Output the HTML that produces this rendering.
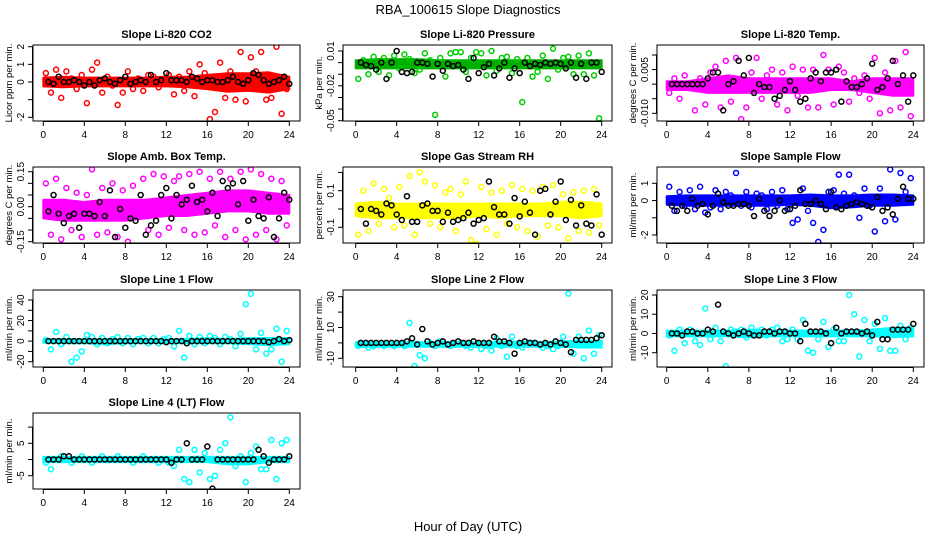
<!DOCTYPE html>
<html><head><meta charset="utf-8"><style>
body{margin:0;background:#fff}
svg{display:block;font-family:"Liberation Sans",Arial,sans-serif}
</style></head><body>
<svg id="chart" width="936" height="540" viewBox="0 0 936 540" xmlns="http://www.w3.org/2000/svg">
<rect width="936" height="540" fill="#fff"/>
<text x="468" y="14" text-anchor="middle" font-size="13">RBA_100615  Slope Diagnostics</text>
<text x="468" y="531" text-anchor="middle" font-size="13">Hour of Day (UTC)</text>
</svg>
<script>
// ---- data arrays (hour-of-day series; colored = all slopes, black = selected) ----
const xTicks = [0,4,8,12,16,20,24];

const co2BandLo = [-0.25,-0.3,-0.25,-0.25,-0.25,-0.25,-0.25,-0.3,-0.4,-0.55,-0.5,-0.6,-0.4];
const co2BandHi = [0.25,0.3,0.25,0.25,0.25,0.25,0.3,0.3,0.4,0.5,0.5,0.55,0.3];
const co2All = [0.5,-0.6,0.7,-0.9,0.6,0.2,-0.4,0.4,-1.2,0.7,1.1,-0.6,0.3,-0.2,-1.3,-0.6,0.6,-0.4,0.2,-0.5,0.4,0.3,-0.3,0.1,0.4,-0.7,0.3,-0.5,0.6,-0.8,1.0,0.5,-2.1,-1.7,1.1,-0.9,0.6,-1.0,1.7,-1.1,1.4,0.6,1.7,-1.0,-0.9,2.0,-1.8,-0.4];
const co2Sel = [0,-0.1,0.3,0,0,0.1,0,-0.2,0,-0.2,0.1,0.2,0,-0.1,0.1,0.3,-0.1,0,0.1,0,0.4,0,0.1,0.5,0.1,0.1,0.1,0,0.3,0.2,0,0.1,0.1,0,0,0.1,0.3,0,-0.1,0.1,0.5,0.4,0.1,-0.1,0,0.1,0.3,-0.1];

const presBandLo = [-0.005,-0.005,-0.005,-0.005,-0.005,-0.005,-0.005,-0.005,-0.005,-0.005,-0.005,-0.005,-0.005];
const presBandHi = [0.002,0.003,0.003,0.003,0.002,0.002,0.002,0.002,0.002,0.002,0.002,0.002,0.002];
const presAll = [-0.014,0.002,-0.010,0.005,-0.008,0.004,-0.011,0.006,-0.005,0.007,0.003,-0.009,-0.006,0.008,0.002,-0.045,0.004,-0.012,0.008,0.009,0.009,-0.008,0.004,0.009,0.008,-0.011,0.010,-0.007,0.004,0.005,-0.009,0.003,-0.034,0.004,-0.012,-0.008,0.006,-0.014,0.012,-0.006,0.004,0.005,-0.010,0.006,-0.010,0.008,-0.011,-0.048];
const presSel = [0,-0.002,-0.003,-0.006,0,-0.014,0,0.010,-0.008,-0.009,-0.008,0,0,-0.001,-0.012,-0.001,-0.007,-0.001,-0.003,-0.002,-0.006,-0.014,0.004,-0.009,-0.004,-0.001,-0.011,-0.005,0,-0.013,-0.005,-0.009,0,-0.003,-0.001,-0.002,0,-0.001,0,-0.001,-0.005,0,-0.013,-0.001,-0.014,0,0,-0.008];

const tempBandLo = [-0.002,-0.002,-0.003,-0.003,-0.003,-0.003,-0.003,-0.003,-0.002,-0.002,-0.003,-0.004,-0.004];
const tempBandHi = [0.001,0.001,0.002,0.003,0.002,0.002,0.002,0.002,0.002,0.001,0.002,0.002,0.002];
const tempAll = [-0.003,0.002,-0.005,0.003,-0.001,-0.009,0.002,-0.007,0.004,0.006,-0.008,0.008,-0.006,0.009,-0.012,-0.008,0.004,0.009,-0.005,0.003,0.005,-0.007,0.004,-0.009,0.006,-0.004,0.005,-0.008,0.005,-0.008,0.010,0.005,-0.007,0.006,0.004,-0.006,0.002,-0.003,0.003,-0.005,0.009,-0.010,0.004,-0.009,0.008,-0.008,0.011,-0.011];
const tempSel = [0,0,0,0,0,0,0,0.002,0.004,0.004,-0.009,0,0.001,0.008,0.003,0.009,-0.003,0.000,-0.001,-0.001,-0.005,-0.004,-0.002,0.001,-0.002,-0.006,-0.005,0.002,0.004,0.001,0.004,0.004,0.005,-0.006,0.001,-0.001,-0.001,0,0.002,0.007,-0.002,-0.001,0.002,0.008,0,0.003,-0.006,0.003];

const ambBandLo = [-0.05,-0.06,-0.06,-0.06,-0.06,-0.05,-0.04,-0.04,-0.03,-0.02,-0.02,-0.03,-0.03];
const ambBandHi = [0.03,0.03,0.02,0.03,0.03,0.03,0.04,0.05,0.06,0.07,0.07,0.06,0.05];
const ambAll = [0.1,-0.12,0.12,-0.14,0.08,-0.1,0.06,-0.13,0.05,0.16,-0.12,0.08,-0.11,0.1,-0.13,0.07,-0.15,0.09,-0.17,0.12,-0.1,0.14,-0.12,0.13,-0.09,0.11,0.13,-0.1,0.14,-0.12,0.15,-0.11,0.12,-0.08,0.15,-0.13,0.12,-0.1,0.15,-0.14,0.16,-0.12,0.14,-0.1,0.12,-0.14,0.11,-0.08];
const ambSel = [-0.02,0.05,-0.03,-0.07,-0.04,-0.03,-0.09,-0.03,-0.03,-0.04,0.02,-0.04,0.07,-0.13,-0.01,-0.09,-0.05,-0.06,0.05,-0.12,-0.08,-0.06,0.05,0.08,-0.05,0.05,0.01,0.03,0.09,0.02,0.03,-0.02,0.06,-0.04,0.11,0.08,0.1,0.01,0.11,-0.06,0.03,-0.04,-0.05,0.04,-0.13,-0.05,0.06,0.03];

const rhBandLo = [-0.04,-0.05,-0.05,-0.05,-0.05,-0.05,-0.04,-0.05,-0.04,-0.04,-0.04,-0.05,-0.04];
const rhBandHi = [0.03,0.04,0.03,0.03,0.03,0.03,0.03,0.03,0.03,0.03,0.04,0.04,0.03];
const rhAll = [-0.14,0.1,-0.12,0.14,-0.08,0.11,0.06,-0.1,0.12,-0.09,0.18,-0.14,0.2,0.15,-0.08,0.13,-0.1,0.09,0.11,-0.12,0.08,0.15,-0.17,-0.19,0.12,-0.11,0.09,-0.14,0.1,-0.08,0.13,-0.1,0.11,-0.12,0.1,-0.15,0.12,-0.09,0.13,-0.1,0.08,-0.16,0.09,-0.12,0.1,-0.13,0.11,-0.09];
const rhSel = [0,-0.08,0,-0.01,-0.03,0.03,0.02,-0.03,-0.06,0.07,-0.07,-0.07,0.02,0.03,-0.01,-0.01,-0.07,-0.02,-0.07,-0.06,-0.05,-0.02,-0.08,-0.06,-0.05,0.15,0.01,-0.03,-0.03,-0.08,0.06,-0.04,0.04,-0.02,-0.14,0.1,0.11,-0.03,0.04,0.15,-0.06,0.05,-0.09,0.02,-0.08,-0.09,0.08,-0.14];

const flowBandLo = [-0.25,-0.3,-0.3,-0.3,-0.3,-0.3,-0.25,-0.3,-0.45,-0.4,-0.3,-0.3,-0.25];
const flowBandHi = [0.25,0.3,0.3,0.3,0.3,0.3,0.3,0.35,0.3,0.3,0.35,0.35,0.3];
const flowAll = [0.8,-0.6,0.5,-0.3,0.6,-0.5,0.8,-0.7,-0.4,0.6,-0.5,0.5,0.3,1.6,-0.3,0.5,-0.4,0.4,0.3,-0.5,0.5,-0.3,0.6,-0.5,-1.3,-1.1,0.7,-0.6,-1.3,-2.4,-1.7,0.5,0.6,1.5,0.4,1.5,0.3,-1.0,0.7,-0.3,-1.8,0.7,-1.2,1.8,-1.1,1.6,0.5,1.3];
const flowSel = [-0.3,-0.6,-0.3,-0.6,0.1,-0.3,-0.2,-0.8,-0.3,0.4,-0.1,-0.3,-0.3,-0.2,-0.2,-0.3,-0.9,0.1,-0.6,-0.9,-0.6,0,-0.6,-0.5,-0.3,0.6,-0.2,-0.2,0,-0.2,-0.5,0.5,-0.4,-0.5,-0.3,-0.2,-0.1,-0.2,-0.3,-0.4,0.2,-0.6,-0.4,-0.8,0.1,0.8,0.1,0.1];

const l1BandLo = [-1.5,-2,-2,-3,-2,-2,-1.5,-2,-2,-2,-3,-4,-3];
const l1BandHi = [1.5,2,2,2,2,2,2,2,3,2,3,3,3];
const l1All = [1,-8,9,-3,4,-20,-16,-10,6,4,-3,3,-2,2,4,-2,3,-3,2,3,-2,3,-2,2,3,-5,10,-16,5,-3,4,-2,5,3,-3,4,2,-5,7,36,46,-8,8,-12,-8,12,-20,10];
const l1Sel = [0,0,0,0,0,0,0,0,0,0,0,0,0,0,0,0,0,0,0,0,0,0,0,-1,0,0,0,-2,0,0,0,0,0,0,0,0,0,0,0,0,0,0,0,-1,0,2,0,1];

const l2BandLo = [-2.5,-2.5,-2.5,-2.5,-2.5,-2.5,-2.5,-2.5,-2.5,-2.5,-2.5,-3,-3];
const l2BandHi = [0.5,0.5,0.5,0.5,0.5,0.5,0.5,0.5,1,0.5,1,1.5,1.5];
const l2All = [-2,-1,-3,-2,-1,-2,-1,-2,-1,-2,13,-15,-8,-10,0,-2,1,-1,-2,-1,0,-2,-3,-1,-4,-2,-5,3,-2,-9,4,-2,-3,-1,0,-1,-3,-2,-4,-2,4,32,-7,4,-10,8,-7,5];
const l2Sel = [0,0,0,0,0,0,0,0,0,1,3,-1,9,1,-1,0,1,-1,0,1,0,0,1,0,0,0,4,1,1,0,-7,0,1,0,0,-1,0,-1,1,0,-1,-6,2,2,2,2,3,5];

const l3BandLo = [-1.5,-1.5,-1.5,-1.5,-2,-1.5,-1.5,-1.5,-1.5,-1.5,-1.5,-2,-1.5];
const l3BandHi = [1.5,1.5,1.5,1.5,2,1.5,1.5,1.5,1.5,1.5,2,3,3];
const l3All = [-1,-9,2,-5,2,-4,-6,13,-3,3,-4,-17,2,1,2,-2,3,1,2,-1,2,3,-4,-3,2,-3,7,-9,-10,-3,6,-7,2,-4,-4,20,10,-12,7,-4,5,-8,8,-9,-9,4,-3,3];
const l3Sel = [0,0,-1,1,1,0,0,2,1,15,1,0,-1,0,1,0,-1,-1,1,1,0,1,1,0,0,-4,5,1,1,1,0,-5,3,0,1,1,1,0,1,-1,6,-3,-3,2,2,2,2,5];

const l4BandLo = [-0.8,-0.8,-0.8,-0.8,-0.8,-0.8,-0.8,-0.8,-0.8,-1.5,-1.5,-0.8,-0.8];
const l4BandHi = [0.8,0.8,0.8,0.8,0.8,0.8,0.8,0.8,0.8,0.8,0.8,0.8,0.8];
const l4All = [-1,-3,0,1,0,-1,0,1,0,-1,0,1,0,0,1,0,0,-1,0,1,0,0,-1,0,-1,-2,3,-6,-7,3,-4,2,-6,-5,3,5,13,-2,1,-7,2,4,-3,-3,6,-6,5,6];
const l4Sel = [0,0,0,1,1,0,0,0,0,0,0,0,0,0,0,0,0,0,0,0,0,0,0,0,-1,0,0,5,0,0,0,4,-9,0,0,0,0,0,0,0,0,3,1,-1,0,0,0,1];

// ---- layout ----
const NS = 'http://www.w3.org/2000/svg';
const svg = document.getElementById('chart');
function mk(tag, attrs, parent){
  const e = document.createElementNS(NS, tag);
  for (const k in attrs) e.setAttribute(k, attrs[k]);
  (parent || svg).appendChild(e);
  return e;
}
const cols = [{l:33,r:300,x0:43.3,x24:289.3,ytl:24,yt:9},
              {l:343,r:612,x0:355.7,x24:601.7,ytl:334,yt:319},
              {l:657,r:924,x0:666.7,x24:913.3,ytl:648,yt:633}];
const rows = [{t:45,b:121,title:38},{t:167,b:243,title:160},{t:290,b:367,title:283},{t:413,b:489,title:406}];

const panels = [
 {name:'co2',title:'Slope Li-820 CO2',ylab:'Licor ppm per min.',c:0,r:0,color:'#ff0000',band:'#ff0000',v1:2,p1:46.7,v2:-2,p2:117.3,ticks:[-2,-1,0,1,2],labels:{'2':'2','1':'1','0':'0','-2':'-2'},lo:co2BandLo,hi:co2BandHi,all:co2All,sel:co2Sel},
 {name:'pressure',title:'Slope Li-820 Pressure',ylab:'kPa per min.',c:1,r:0,color:'#00cd00',band:'#00b000',v1:0.01,p1:51,v2:-0.05,p2:120.7,ticks:[0.01,0,-0.01,-0.02,-0.03,-0.04,-0.05],labels:{'0.01':'0.01','-0.02':'-0.02','-0.05':'-0.05'},lo:presBandLo,hi:presBandHi,all:presAll,sel:presSel},
 {name:'li820-temp',title:'Slope Li-820 Temp.',ylab:'degrees C per min.',c:2,r:0,color:'#ff00ff',band:'#ff00ff',v1:0.01,p1:55,v2:-0.01,p2:113.3,ticks:[0.01,0.005,0,-0.005,-0.01],labels:{'0.005':'0.005','-0.01':'-0.010'},lo:tempBandLo,hi:tempBandHi,all:tempAll,sel:tempSel},
 {name:'amb-box-temp',title:'Slope Amb. Box Temp.',ylab:'degrees C per min.',c:0,r:1,color:'#ff00ff',band:'#ff00ff',v1:0.15,p1:171.7,v2:-0.15,p2:241.7,ticks:[0.15,0.1,0.05,0,-0.05,-0.1,-0.15],labels:{'0.15':'0.15','0':'0.00','-0.15':'-0.15'},lo:ambBandLo,hi:ambBandHi,all:ambAll,sel:ambSel},
 {name:'gas-stream-rh',title:'Slope Gas Stream RH',ylab:'percent per min.',c:1,r:1,color:'#ffff00',band:'#ffff00',v1:0.1,p1:190.7,v2:-0.1,p2:227.3,ticks:[0.2,0.1,0,-0.1],labels:{'0.1':'0.1','-0.1':'-0.1'},lo:rhBandLo,hi:rhBandHi,all:rhAll,sel:rhSel},
 {name:'sample-flow',title:'Slope Sample Flow',ylab:'ml/min per min.',c:2,r:1,color:'#0000ff',band:'#0000ff',v1:1,p1:183.3,v2:-2,p2:235,ticks:[1,0,-1,-2],labels:{'1':'1','0':'0','-2':'-2'},lo:flowBandLo,hi:flowBandHi,all:flowAll,sel:flowSel},
 {name:'line1-flow',title:'Slope Line 1 Flow',ylab:'ml/min per min.',c:0,r:2,color:'#00ffff',band:'#00ffff',v1:40,p1:300,v2:-20,p2:361.7,ticks:[40,30,20,10,0,-10,-20],labels:{'40':'40','20':'20','0':'0','-20':'-20'},lo:l1BandLo,hi:l1BandHi,all:l1All,sel:l1Sel},
 {name:'line2-flow',title:'Slope Line 2 Flow',ylab:'ml/min per min.',c:1,r:2,color:'#00ffff',band:'#00ffff',v1:30,p1:296.7,v2:-10,p2:358.3,ticks:[30,20,10,0,-10],labels:{'30':'30','10':'10','-10':'-10'},lo:l2BandLo,hi:l2BandHi,all:l2All,sel:l2Sel},
 {name:'line3-flow',title:'Slope Line 3 Flow',ylab:'ml/min per min.',c:2,r:2,color:'#00ffff',band:'#00ffff',v1:20,p1:295,v2:-10,p2:352.7,ticks:[20,10,0,-10],labels:{'20':'20','10':'10','0':'0','-10':'-10'},lo:l3BandLo,hi:l3BandHi,all:l3All,sel:l3Sel},
 {name:'line4-flow',title:'Slope Line 4 (LT) Flow',ylab:'ml/min per min.',c:0,r:3,color:'#00ffff',band:'#00ffff',v1:5,p1:443.3,v2:-5,p2:475.7,ticks:[10,5,0,-5],labels:{'5':'5','-5':'-5'},lo:l4BandLo,hi:l4BandHi,all:l4All,sel:l4Sel}
];

panels.forEach(p => {
  const col = cols[p.c], row = rows[p.r];
  const xs = h => col.x0 + (col.x24 - col.x0) * h / 24;
  const ys = v => p.p1 + (v - p.v1) * (p.p2 - p.p1) / (p.v2 - p.v1);
  const g = mk('g', {});
  
  
  const clipId = 'clip-' + p.name;
  const cp = mk('clipPath', {id: clipId}, g);
  mk('rect', {x: col.l, y: row.t, width: col.r - col.l, height: row.b - row.t}, cp);
  const plot = mk('g', {'clip-path': 'url(#' + clipId + ')'}, g);

  let pts = [];
  p.hi.forEach((v, i) => pts.push(xs(i * 24 / (p.hi.length - 1)).toFixed(1) + ',' + ys(v).toFixed(1)));
  for (let i = p.lo.length - 1; i >= 0; i--) pts.push(xs(i * 24 / (p.lo.length - 1)).toFixed(1) + ',' + ys(p.lo[i]).toFixed(1));
  const band = mk('polygon', {points: pts.join(' '), fill: p.band, stroke: p.band, 'stroke-width': 2, 'stroke-linejoin': 'round'}, plot);
  
  

  p.all.forEach((v, i) => {
    const c = mk('circle', {cx: xs((i + 0.5) * 24 / p.all.length), cy: ys(v), r: 2.5, fill: 'none', stroke: p.color, 'stroke-width': 1.5}, plot);
    
    
  });
  p.sel.forEach((v, i) => {
    const c = mk('circle', {cx: xs((i + 1) * 24 / p.sel.length), cy: ys(v), r: 2.5, fill: 'none', stroke: '#000', 'stroke-width': 1.5}, plot);
    
    
  });

  mk('rect', {x: col.l, y: row.t, width: col.r - col.l, height: row.b - row.t, fill: 'none', stroke: '#000', 'stroke-width': 1}, g);
  const t = mk('text', {x: (col.l + col.r) / 2, y: row.title, 'text-anchor': 'middle', 'font-size': 11, 'font-weight': 'bold'}, g);
  t.textContent = p.title;
  
  
  mk('line', {x1: xs(0), x2: xs(24), y1: row.b + 0.5, y2: row.b + 0.5, stroke: '#000'}, g);
  xTicks.forEach(h => {
    mk('line', {x1: xs(h), x2: xs(h), y1: row.b, y2: row.b + 5, stroke: '#000'}, g);
    const lt = mk('text', {x: xs(h), y: row.b + 17, 'text-anchor': 'middle', 'font-size': 10}, g);
    lt.textContent = h;
    
    
  });
  const yMin = Math.min(...p.ticks), yMax = Math.max(...p.ticks);
  mk('line', {x1: col.l - 0.5, x2: col.l - 0.5, y1: ys(yMax), y2: ys(yMin), stroke: '#000'}, g);
  p.ticks.forEach(v => {
    mk('line', {x1: col.l - 5, x2: col.l, y1: ys(v), y2: ys(v), stroke: '#000'}, g);
    const key = String(v);
    if (p.labels[key] !== undefined) {
      const lt = mk('text', {x: 0, y: 0, 'text-anchor': 'middle', 'font-size': 10, transform: 'translate(' + col.ytl + ',' + ys(v) + ') rotate(-90)'}, g);
      lt.textContent = p.labels[key];
      
      
    }
  });
  const yl = mk('text', {x: 0, y: 0, 'text-anchor': 'middle', 'font-size': 9.5, transform: 'translate(' + (col.yt + 3) + ',' + ((row.t + row.b) / 2) + ') rotate(-90)'}, g);
  yl.textContent = p.ylab;
  
  
});
</script>
</body></html>
